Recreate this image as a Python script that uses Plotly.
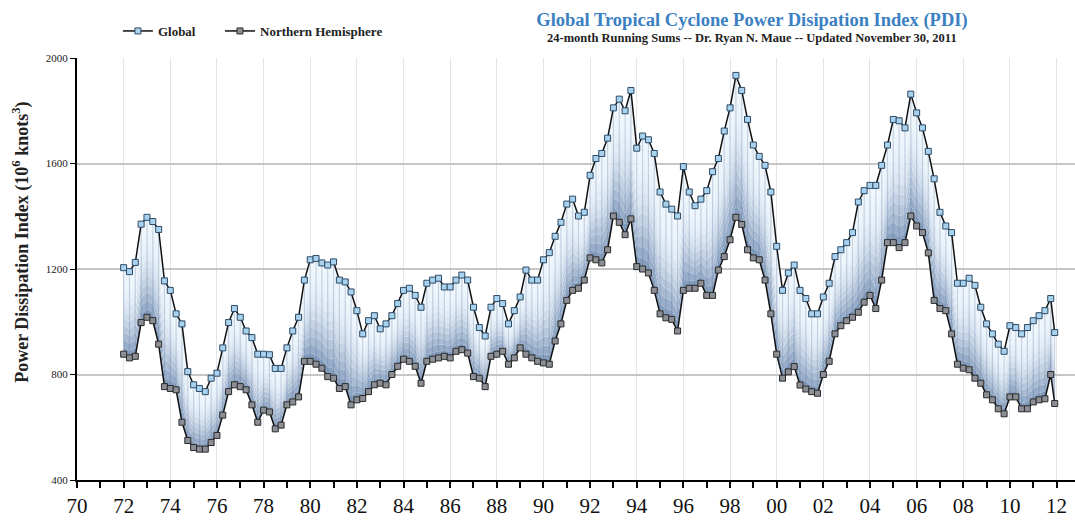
import plotly.graph_objects as go

# ---------------- data (24-month running sums, quarterly reading) ----------------
start_year = 1972
n_quarters = 160
years = [start_year + q / 4 for q in range(n_quarters)] + [2011.92]

global_pdi = [
    1205, 1190, 1225, 1370,   # 1972
    1396, 1380, 1350, 1155,   # 1973
    1119, 1030, 992, 811,     # 1974
    761, 747, 735, 786,       # 1975
    805, 901, 997, 1050,      # 1976
    1017, 965, 940, 877,      # 1977
    877, 875, 823, 823,       # 1978
    901, 965, 1017, 1158,     # 1979
    1235, 1240, 1223, 1215,   # 1980
    1227, 1158, 1151, 1113,   # 1981
    1042, 954, 1004, 1023,    # 1982
    973, 992, 1023, 1069,     # 1983
    1119, 1127, 1100, 1055,   # 1984
    1146, 1158, 1165, 1132,   # 1985
    1132, 1158, 1177, 1158,   # 1986
    1055, 978, 946, 1055,     # 1987
    1088, 1069, 992, 1042,    # 1988
    1094, 1196, 1158, 1158,   # 1989
    1235, 1262, 1324, 1377,   # 1990
    1446, 1465, 1401, 1415,   # 1991
    1555, 1619, 1638, 1696,   # 1992
    1811, 1844, 1800, 1877,   # 1993
    1658, 1704, 1690, 1638,   # 1994
    1492, 1446, 1427, 1401,   # 1995
    1588, 1492, 1440, 1465,   # 1996
    1497, 1569, 1619, 1723,   # 1997
    1811, 1934, 1877, 1767,   # 1998
    1670, 1627, 1593, 1492,   # 1999
    1286, 1119, 1185, 1215,   # 2000
    1119, 1088, 1030, 1030,   # 2001
    1094, 1146, 1247, 1273,   # 2002
    1300, 1338, 1454, 1497,   # 2003
    1517, 1517, 1593, 1670,   # 2004
    1767, 1762, 1735, 1863,   # 2005
    1792, 1735, 1646, 1542,   # 2006
    1415, 1363, 1338, 1146,   # 2007
    1146, 1165, 1138, 1055,   # 2008
    992, 954, 915, 888,       # 2009
    985, 978, 954, 978,       # 2010
    1004, 1023, 1042, 1088,   # 2011
    959,
]

nh_pdi = [
    877, 863, 869, 997,       # 1972
    1017, 1004, 915, 754,     # 1973
    747, 742, 619, 550,       # 1974
    523, 517, 517, 542,       # 1975
    569, 646, 735, 761,       # 1976
    754, 742, 685, 619,       # 1977
    665, 658, 594, 608,       # 1978
    685, 696, 715, 850,       # 1979
    850, 839, 824, 792,       # 1980
    786, 747, 754, 685,       # 1981
    704, 709, 735, 761,       # 1982
    767, 761, 800, 831,       # 1983
    858, 850, 831, 767,       # 1984
    850, 858, 863, 869,       # 1985
    863, 888, 894, 881,       # 1986
    792, 786, 754, 869,       # 1987
    877, 888, 839, 863,       # 1988
    901, 877, 863, 850,       # 1989
    844, 839, 927, 992,       # 1990
    1081, 1119, 1127, 1158,   # 1991
    1242, 1235, 1223, 1273,   # 1992
    1401, 1377, 1330, 1390,   # 1993
    1209, 1200, 1185, 1119,   # 1994
    1030, 1015, 1009, 965,    # 1995
    1119, 1127, 1127, 1146,   # 1996
    1100, 1100, 1196, 1247,   # 1997
    1311, 1396, 1369, 1273,   # 1998
    1242, 1235, 1158, 1030,   # 1999
    877, 786, 810, 830,       # 2000
    760, 745, 735, 729,       # 2001
    800, 850, 954, 985,       # 2002
    1004, 1017, 1036, 1074,   # 2003
    1100, 1050, 1158, 1300,   # 2004
    1300, 1281, 1300, 1401,   # 2005
    1363, 1338, 1261, 1081,   # 2006
    1050, 1042, 954, 839,     # 2007
    824, 818, 786, 767,       # 2008
    723, 704, 670, 651,       # 2009
    715, 715, 670, 670,       # 2010
    696, 704, 708, 800,       # 2011
    690,
]

x_tick_vals = list(range(1970, 2013, 2))
x_tick_text = ["70", "72", "74", "76", "78", "80", "82", "84", "86", "88", "90",
               "92", "94", "96", "98", "00", "02", "04", "06", "08", "10", "12"]
y_tick_vals = [400, 800, 1200, 1600, 2000]

# ---------------- styling ----------------
SERIF = "Liberation Serif"
# bottom (NH side) -> top (Global side)
band_colors = ["#879fbf", "#97adc9", "#a8bbd3", "#b7c8dc", "#c5d3e5", "#d1deec",
               "#dbe6f2", "#e2ecf6", "#e8f1f9", "#ecf4fb", "#eef6fc", "#f0f7fd"]

fig = go.Figure()

nb = len(band_colors)
fig.add_trace(go.Scatter(x=years, y=nh_pdi, mode="lines", line=dict(width=0),
                         showlegend=False, hoverinfo="skip"))
for k in range(1, nb + 1):
    lvl = [n + (g - n) * k / nb for g, n in zip(global_pdi, nh_pdi)]
    fig.add_trace(go.Scatter(x=years, y=lvl, mode="lines", line=dict(width=0),
                             fill="tonexty", fillcolor=band_colors[k - 1],
                             showlegend=False, hoverinfo="skip"))

# vertical stripes
sx, sy = [], []
for t, g, n in zip(years, global_pdi, nh_pdi):
    sx += [t, t, None]
    sy += [n, g, None]
fig.add_trace(go.Scatter(x=sx, y=sy, mode="lines",
                         line=dict(color="rgba(80,110,150,0.26)", width=1.2),
                         showlegend=False, hoverinfo="skip"))

fig.add_trace(go.Scatter(
    x=years, y=global_pdi, mode="lines+markers",
    name="<b>Global</b>" + "&nbsp;" * 6,
    line=dict(color="#111111", width=1.5),
    marker=dict(symbol="square", size=6, color="#a9d2ee",
                line=dict(color="#2c4a66", width=1)),
))
fig.add_trace(go.Scatter(
    x=years, y=nh_pdi, mode="lines+markers", name="<b>Northern Hemisphere</b>",
    line=dict(color="#111111", width=1.5),
    marker=dict(symbol="square", size=6, color="#8c9096",
                line=dict(color="#2a2a2a", width=1)),
))

fig.update_layout(
    width=1075, height=520,
    margin=dict(l=77, r=0, t=58, b=40, autoexpand=False),
    paper_bgcolor="white", plot_bgcolor="white",
    font=dict(family=SERIF, color="#222222"),
    title=dict(text="<b>Global Tropical Cyclone Power Disipation Index (PDI)</b>",
               x=0.6995, xanchor="center", y=0.962, yanchor="middle",
               font=dict(family=SERIF, size=18.5, color="#3b80c2")),
    legend=dict(orientation="h", x=0.041, xanchor="left", y=1.064, yanchor="middle",
                font=dict(family=SERIF, size=13, color="#222222"),
                bgcolor="rgba(0,0,0,0)", itemwidth=30, traceorder="normal"),
    showlegend=True,
)

fig.add_annotation(
    text="<b>24-month Running Sums -- Dr. Ryan N. Maue -- Updated November 30, 2011</b>",
    xref="paper", yref="paper", x=0.6764, y=1.0474, xanchor="center", yanchor="middle",
    showarrow=False, font=dict(family=SERIF, size=12.5, color="#222222"),
)
fig.add_annotation(
    text="<b>Power Dissipation Index (10<sup>6</sup> knots<sup>3</sup>)</b>",
    xref="paper", yref="paper", x=-0.0561, y=0.562, xanchor="center", yanchor="middle",
    textangle=-90, showarrow=False, font=dict(family=SERIF, size=18, color="#222222"),
)

fig.update_xaxes(
    range=[1970, 2012.79], tickvals=x_tick_vals, ticktext=x_tick_text,
    showgrid=True, gridcolor="#e0e5ee", gridwidth=1,
    showline=True, linecolor="black", linewidth=2,
    ticks="outside", ticklen=6, tickcolor="black", tickwidth=1.5,
    tickfont=dict(family=SERIF, size=21, color="#111111"),
    minor=dict(dtick=1, tick0=1970, ticks="outside", ticklen=6, tickcolor="black",
               tickwidth=1.5, showgrid=False),
    zeroline=False, automargin=False,
)
fig.update_yaxes(
    range=[400, 2000], tickvals=y_tick_vals,
    showgrid=True, gridcolor="#c6c6c6", gridwidth=2,
    showline=True, linecolor="black", linewidth=2,
    ticks="outside", ticklen=5, tickcolor="black",
    tickfont=dict(family=SERIF, size=11, color="#222222"),
    zeroline=False, automargin=False,
)

fig.write_html(
    "out.html",
    config={"displayModeBar": False},
    post_script="document.body.style.margin='0px';document.body.style.overflow='hidden';",
)
